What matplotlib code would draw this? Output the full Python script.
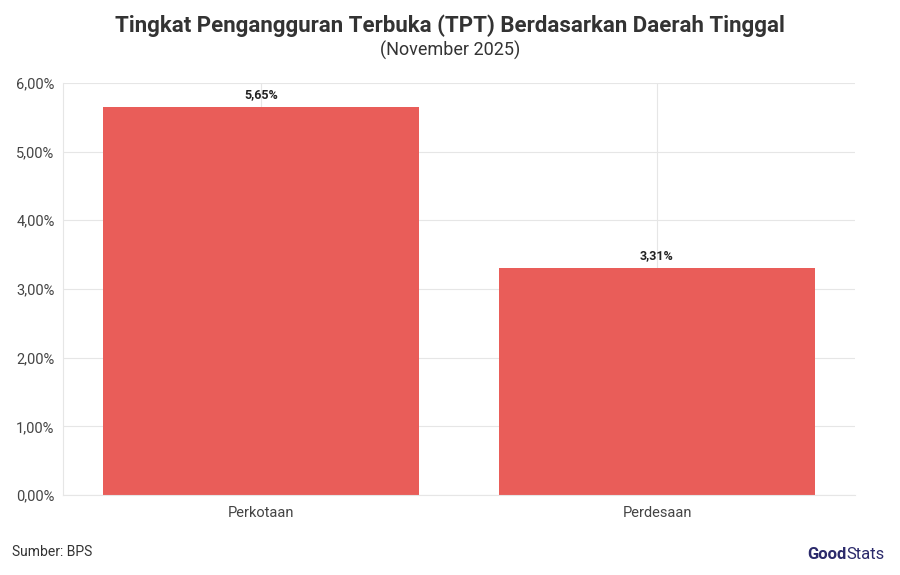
import matplotlib
matplotlib.use("Agg")
import matplotlib.pyplot as plt
from matplotlib.ticker import FuncFormatter

plt.rcParams["font.family"] = ["Roboto", "DejaVu Sans"]

categories = ["Perkotaan", "Perdesaan"]
values = [5.65, 3.31]
yticks = [0, 1, 2, 3, 4, 5, 6]

fig = plt.figure(figsize=(9, 5.75), dpi=100)
ax = fig.add_axes([0.07, 0.139, 0.88, 0.717])

x = list(range(len(categories)))
ax.bar(x, values, width=0.8, color="#E95D59", zorder=2)
for xi, v in zip(x, values):
    ax.text(xi, v + 0.08, f"{v:.2f}%".replace(".", ","), ha="center", va="bottom",
            fontsize=9, fontweight="bold", color="#222222")

ax.set_xlim(-0.5, 1.5)
ax.set_ylim(0, 6)
ax.set_xticks(x)
ax.set_xticklabels(categories, fontsize=10.5, color="#444444")
ax.set_yticks(yticks)
ax.yaxis.set_major_formatter(FuncFormatter(lambda v, _: f"{v:.2f}%".replace(".", ",")))
ax.tick_params(axis="y", labelsize=10.5, colors="#444444", length=0, pad=6)
ax.tick_params(axis="x", length=0, pad=8)
ax.grid(True, axis="both", color="#E6E6E6", linewidth=0.8, zorder=0)
for side in ["top", "right"]:
    ax.spines[side].set_visible(False)
ax.spines["left"].set_color("#E6E6E6")
ax.spines["bottom"].set_color("#E6E6E6")

fig.text(0.5, 0.955, "Tingkat Pengangguran Terbuka (TPT) Berdasarkan Daerah Tinggal",
         ha="center", va="center", fontsize=16, fontweight="bold", color="#333333")
fig.text(0.5, 0.913, "(November 2025)", ha="center", va="center", fontsize=13, color="#333333")
fig.text(0.013, 0.04, "Sumber: BPS", ha="left", va="center", fontsize=10, color="#333333")
fig.text(0.94, 0.035, "Good", ha="right", va="center", fontsize=12, fontweight="bold", color="#2B2A6B")
fig.text(0.94, 0.035, "Stats", ha="left", va="center", fontsize=12, color="#2B2A6B")

fig.savefig("out.png", dpi=100)
